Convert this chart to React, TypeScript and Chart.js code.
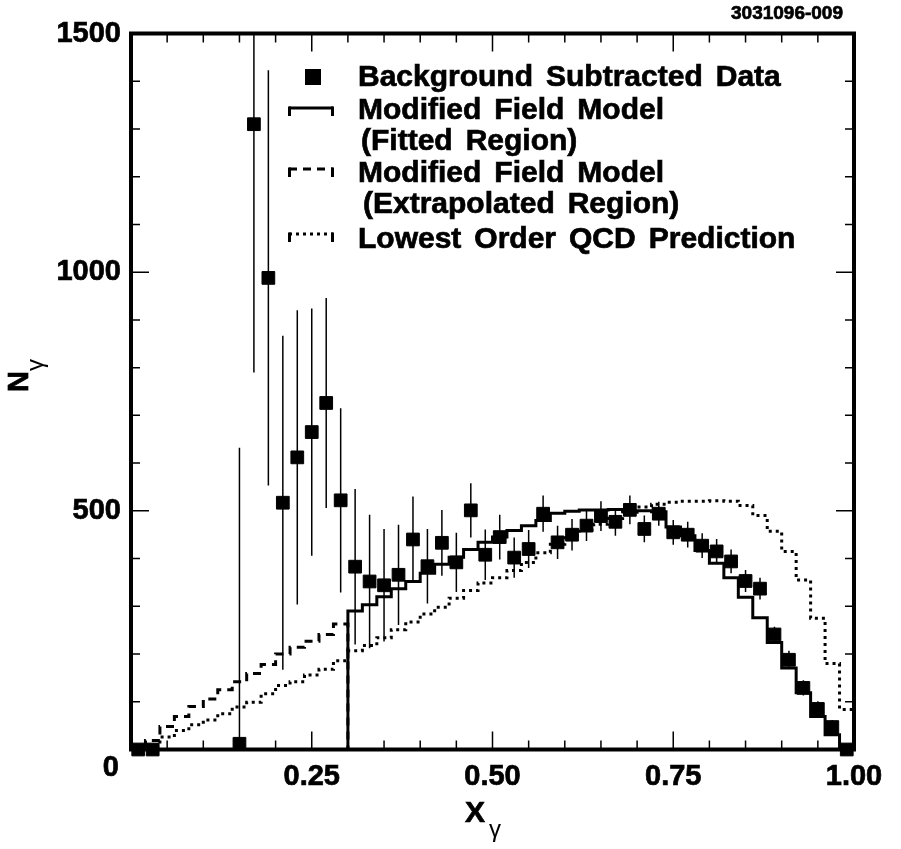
import { useEffect, useRef } from "react";
import { Chart, registerables } from "chart.js";

Chart.register(...registerables);

const BIN = 0.02;
const FONT = '"Liberation Sans", Arial, Helvetica, sans-serif';

// background subtracted data, bin centres
const dataX = [
	0.01, 0.03, 0.15, 0.17, 0.19, 0.21, 0.23, 0.25, 0.27, 0.29, 0.31, 0.33, 0.35, 0.37, 0.39,
	0.41, 0.43, 0.45, 0.47, 0.49, 0.51, 0.53, 0.55, 0.57, 0.59, 0.61, 0.63, 0.65, 0.67, 0.69,
	0.71, 0.73, 0.75, 0.77, 0.79, 0.81, 0.83, 0.85, 0.87, 0.89, 0.91, 0.93, 0.95, 0.97, 0.99,
];
const dataY = [
	0, 0, 12, 1310, 988, 517, 612, 665, 726, 522, 383, 352, 344, 366, 440,
	384, 433, 392, 501, 408, 445, 402, 420, 494, 434, 450, 469, 489, 477, 502,
	462, 494, 455, 450, 427, 415, 394, 353, 337, 241, 188, 129, 85, 47, 0,
];
const dataErr = [
	0, 0, 620, 520, 435, 350, 308, 259, 220, 193, 163, 140, 118, 105, 90,
	78, 69, 62, 57, 53, 47, 42, 40, 38, 35, 33, 32, 31, 29, 30,
	28, 25, 26, 27, 26, 26, 25, 23, 23, 16, 19, 16, 16, 15, 0,
];

// modified field model, fitted region (bins from 0.30)
const fittedStart = 0.3;
const fittedVals = [
	290, 303, 320, 337, 352, 369, 388, 403, 419, 434, 445, 459, 469, 480, 495, 499, 502, 502,
	503, 500, 500, 498, 466, 448, 417, 390, 360, 319, 276, 224, 171, 119, 69, 31,
];

// modified field model, extrapolated region (bins from 0.00 to 0.30)
const extrapStart = 0;
const extrapVals = [4, 19, 48, 69, 90, 106, 125, 142, 159, 178, 200, 214, 227, 241, 263];

// lowest order QCD prediction (bins from 0.00 to 1.00)
const qcdStart = 0;
const qcdVals = [
	0, 6, 26, 40, 52, 62, 75, 89, 99, 117, 134, 142, 156, 168, 186, 207, 218, 234, 251, 267,
	284, 298, 317, 333, 349, 360, 375, 392, 412, 430, 447, 460, 472, 484, 497, 508, 514, 518,
	520, 520, 521, 520, 511, 490, 457, 415, 355, 275, 180, 84,
];

const xTicks = [0.25, 0.5, 0.75, 1.0];
const xTickLabels = ["0.25", "0.50", "0.75", "1.00"];
const yTicks = [500, 1000, 1500];
const yTickLabels = ["500", "1000", "1500"];

const legendLabels = [
	"Background Subtracted Data",
	"Modified Field Model",
	"(Fitted Region)",
	"Modified Field Model",
	"(Extrapolated Region)",
	"Lowest Order QCD Prediction",
];

const stepPoints = (start: number, vals: number[], riseFromZero: boolean, dropToZero: boolean) => {
	const pts: { x: number; y: number }[] = [];
	if (riseFromZero) pts.push({ x: start, y: 0 });
	vals.forEach((v, i) => pts.push({ x: +(start + i * BIN).toFixed(2), y: v }));
	const end = +(start + vals.length * BIN).toFixed(2);
	pts.push({ x: end, y: vals[vals.length - 1] });
	if (dropToZero) pts.push({ x: end, y: 0 });
	return pts;
};

// bold text with a hair of stroke, closer to the heavy PostScript Helvetica
const heavyText = (ctx: CanvasRenderingContext2D, t: string, x: number, y: number) => {
	ctx.lineWidth = 0.7;
	ctx.strokeText(t, x, y);
	ctx.fillText(t, x, y);
};

// the old plotting package puts wide gaps between words
const spacedText = (ctx: CanvasRenderingContext2D, t: string, x: number, y: number, gap: number) => {
	let cx = x;
	t.split(" ").forEach((w) => {
		heavyText(ctx, w, cx, y);
		cx += ctx.measureText(w).width + gap;
	});
};

const decorPlugin = {
	id: "decor",
	beforeDatasetsDraw(chart: any) {
		const { ctx, chartArea, scales } = chart;
		ctx.save();
		ctx.beginPath();
		ctx.rect(chartArea.left, chartArea.top, chartArea.right - chartArea.left, chartArea.bottom - chartArea.top);
		ctx.clip();
		ctx.strokeStyle = "#000";
		ctx.lineWidth = 1.5;
		dataX.forEach((x, i) => {
			if (!dataErr[i]) return;
			const px = scales.x.getPixelForValue(x);
			ctx.beginPath();
			ctx.moveTo(px, scales.y.getPixelForValue(dataY[i] - dataErr[i]));
			ctx.lineTo(px, scales.y.getPixelForValue(dataY[i] + dataErr[i]));
			ctx.stroke();
		});
		ctx.restore();
	},
	afterDraw(chart: any) {
		const { ctx, chartArea, scales } = chart;
		const { left, right, top, bottom } = chartArea;
		const xs = scales.x;
		const ys = scales.y;
		ctx.save();
		ctx.strokeStyle = "#000";
		ctx.fillStyle = "#000";

		// ticks on all four sides, inside
		ctx.lineWidth = 1.5;
		ctx.beginPath();
		for (let i = 1; i < 20; i++) {
			const px = xs.getPixelForValue(i * 0.05);
			const len = i % 5 === 0 ? 18 : 9;
			ctx.moveTo(px, bottom);
			ctx.lineTo(px, bottom - len);
			ctx.moveTo(px, top);
			ctx.lineTo(px, top + len);
		}
		for (let i = 1; i < 15; i++) {
			const py = ys.getPixelForValue(i * 100);
			const len = i % 5 === 0 ? 18 : 9;
			ctx.moveTo(left, py);
			ctx.lineTo(left + len, py);
			ctx.moveTo(right, py);
			ctx.lineTo(right - len, py);
		}
		ctx.stroke();

		// frame
		ctx.lineWidth = 4;
		ctx.strokeRect(left, top, right - left, bottom - top);

		// tick labels
		ctx.font = `bold 29px ${FONT}`;
		ctx.textAlign = "right";
		ctx.textBaseline = "middle";
		yTicks.forEach((v, i) => heavyText(ctx, yTickLabels[i], left - 10, ys.getPixelForValue(v)));
		ctx.textAlign = "center";
		ctx.textBaseline = "top";
		xTicks.forEach((v, i) => heavyText(ctx, xTickLabels[i], xs.getPixelForValue(v), bottom + 13));
		ctx.textAlign = "right";
		heavyText(ctx, "0", left - 12, bottom + 4);

		// axis titles
		ctx.textAlign = "left";
		ctx.textBaseline = "alphabetic";
		ctx.font = `bold 30px ${FONT}`;
		heavyText(ctx, "X", 465, 822);
		ctx.font = `24px ${FONT}`;
		ctx.fillText("γ", 489, 837);

		ctx.save();
		ctx.translate(28, 392);
		ctx.rotate(-Math.PI / 2);
		ctx.font = `bold 29px ${FONT}`;
		heavyText(ctx, "N", 0, 0);
		ctx.font = `24px ${FONT}`;
		ctx.fillText("γ", 21, 15);
		ctx.restore();

		// sheet number
		ctx.font = `bold 19px ${FONT}`;
		ctx.textAlign = "center";
		ctx.textBaseline = "middle";
		heavyText(ctx, "3031096-009", 787, 14);

		// legend
		ctx.fillRect(305, 69, 16, 16);
		const bracket = (y: number, dash: number[]) => {
			ctx.lineWidth = 3;
			ctx.setLineDash(dash);
			ctx.beginPath();
			ctx.moveTo(289, y);
			ctx.lineTo(333, y);
			ctx.stroke();
			ctx.setLineDash([]);
			ctx.beginPath();
			ctx.moveTo(289.5, y - 1.5);
			ctx.lineTo(289.5, y + 8);
			ctx.moveTo(332.5, y - 1.5);
			ctx.lineTo(332.5, y + 8);
			ctx.stroke();
		};
		bracket(108, []);
		bracket(169, [8, 6]);
		bracket(234, [3, 4]);

		ctx.font = `bold 30px ${FONT}`;
		ctx.textAlign = "left";
		ctx.textBaseline = "middle";
		const rowY = [78, 111, 142, 174, 205, 240];
		const rowX = [358, 358, 361, 358, 363, 358];
		legendLabels.forEach((t, i) => spacedText(ctx, t, rowX[i], rowY[i], 13));
		ctx.restore();
	},
};

const App = (): JSX.Element => {
	const chartRef = useRef<HTMLCanvasElement | null>(null);

	useEffect(() => {
		document.body.style.margin = "0";
		const ctx = chartRef.current.getContext("2d");
		const line = { type: "line" as const, showLine: true, stepped: true, pointRadius: 0, borderColor: "#000", borderWidth: 3, fill: false };
		let chart = new Chart(ctx, {
			type: "scatter",
			data: {
				datasets: [
					{
						label: "Background Subtracted Data",
						data: dataX.map((x, i) => ({ x, y: dataY[i] })),
						pointStyle: "rect",
						pointRadius: 9,
						pointBorderWidth: 1,
						backgroundColor: "#000",
						borderColor: "#000",
						clip: false,
					},
					{ ...line, label: "Fitted", data: stepPoints(fittedStart, fittedVals, true, true) },
					{ ...line, label: "Extrapolated", data: stepPoints(extrapStart, extrapVals, false, true), borderDash: [8, 6] },
					{ ...line, label: "QCD", data: stepPoints(qcdStart, qcdVals, false, false), borderDash: [3, 4] },
				],
			},
			options: {
				responsive: false,
				animation: false,
				layout: { padding: { left: 131, right: 47, top: 33.5, bottom: 99.5 } },
				scales: {
					x: { type: "linear", min: 0, max: 1, display: false },
					y: { type: "linear", min: 0, max: 1500, display: false },
				},
				plugins: { legend: { display: false }, tooltip: { enabled: false } },
			},
			plugins: [decorPlugin],
		});

		return () => {
			chart.destroy();
		};
	}, []);

	return <canvas ref={chartRef} width={901} height={849} style={{ display: "block", width: 901, height: 849 }} />;
};

export default App;
